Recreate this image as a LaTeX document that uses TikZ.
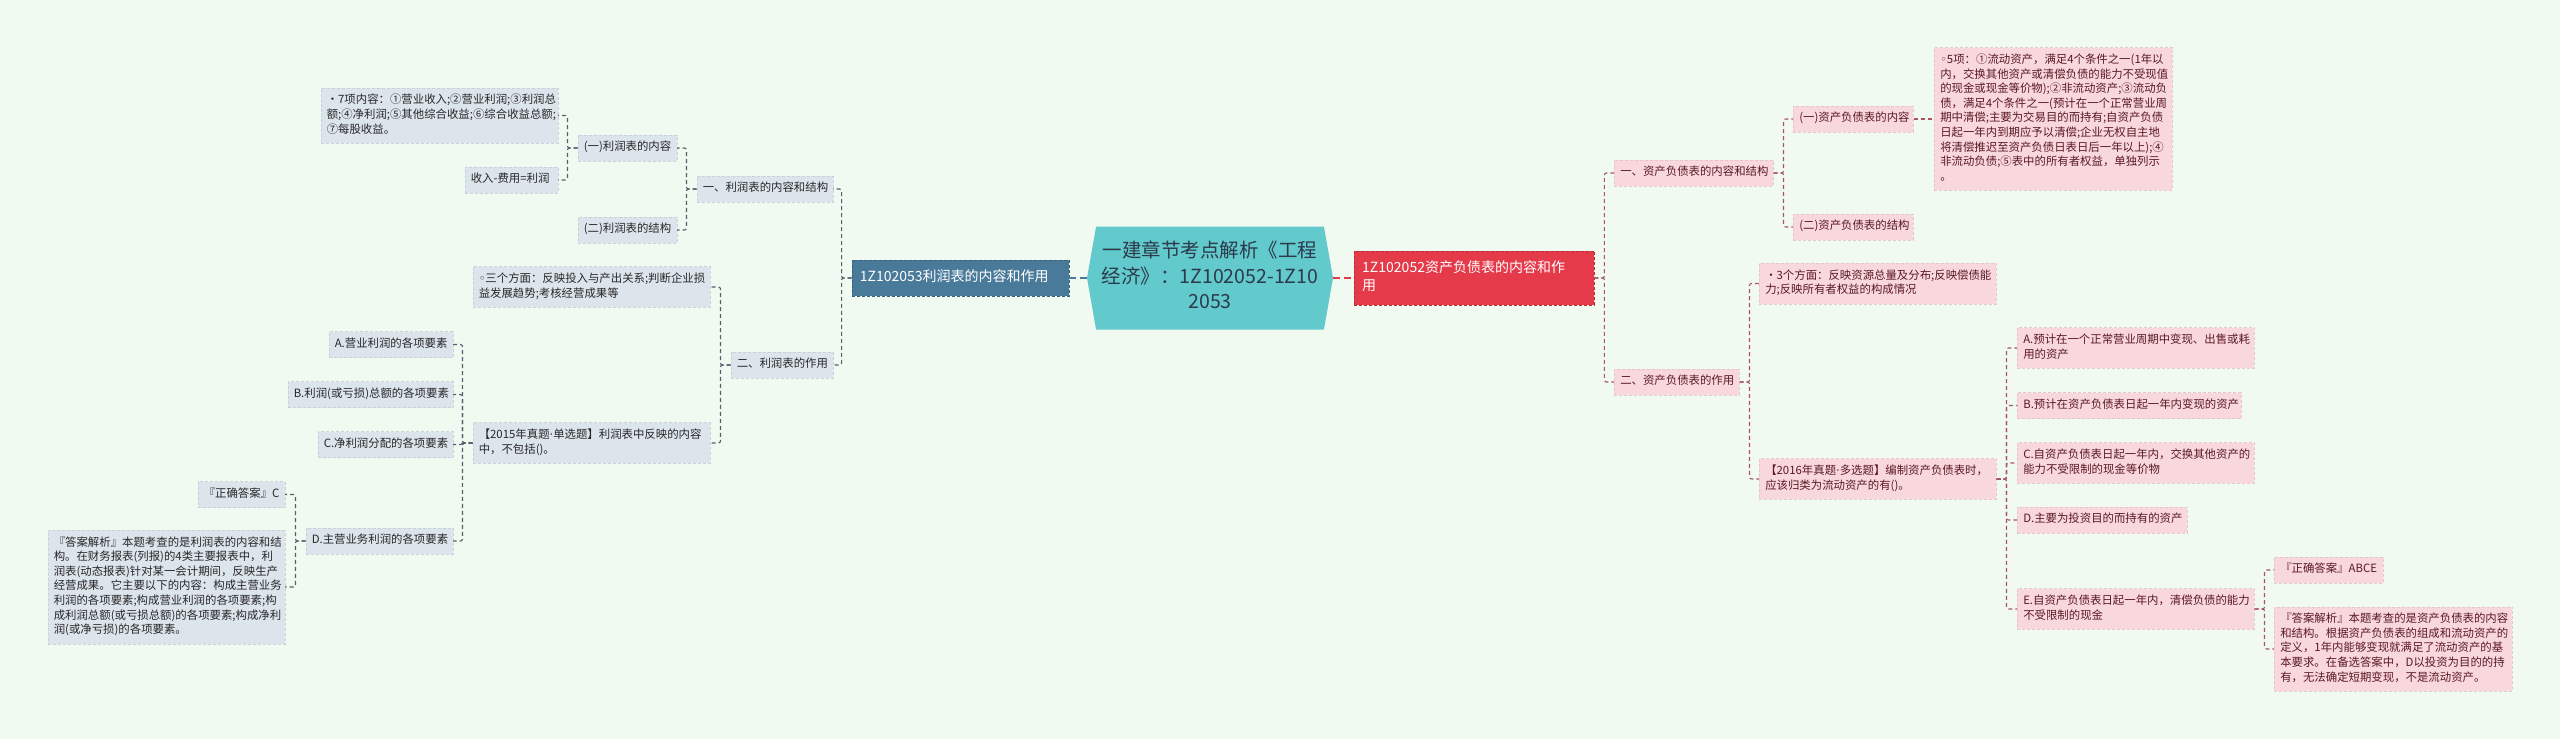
\documentclass[tikz,border=0pt]{standalone}
\usepackage{fontspec}
\setmainfont{Noto Sans CJK SC}
\newfontfamily\symfont{DejaVu Sans}
\usepackage{xcolor}
\usepackage{tikz}
\usetikzlibrary{shapes.symbols}

\definecolor{bgcol}{RGB}{241,250,240}
\definecolor{lfill}{RGB}{220,228,236}
\definecolor{ltext}{RGB}{40,40,40}
\definecolor{lline}{RGB}{80,96,110}
\definecolor{rfill}{RGB}{249,216,221}
\definecolor{rtext}{RGB}{90,24,36}
\definecolor{rline}{RGB}{170,84,98}
\definecolor{bluecol}{RGB}{74,122,154}
\definecolor{redcol}{RGB}{229,58,74}
\definecolor{hubcol}{RGB}{98,201,204}
\definecolor{hubtext}{RGB}{44,58,74}

\newcommand{\mdot}{{\symfont ·}}

\begin{document}
\begin{tikzpicture}[x=1pt,y=-1pt,
  every node/.style={inner xsep=6pt, inner ysep=5.7pt, align=left,
    execute at begin node=\strut, execute at end node=\strut},
  lbox/.style={fill=lfill, draw=lfill!92!black, dash pattern=on 3pt off 2pt,
    line width=0.5pt, text=ltext, font=\fontsize{11.4}{14.6}\selectfont},
  rbox/.style={fill=rfill, draw=rfill!92!black, dash pattern=on 3pt off 2pt,
    line width=0.5pt, text=rtext, font=\fontsize{11.4}{14.6}\selectfont},
  lconn/.style={draw=lline, line width=1.1pt, dash pattern=on 4pt off 3pt, rounded corners=2pt},
  rconn/.style={draw=rline, line width=1.1pt, dash pattern=on 4pt off 3pt, rounded corners=2pt},
  hub/.style={shape=signal, signal to=west and east, signal pointer angle=160,
    fill=hubcol, text=hubtext, minimum width=246pt, minimum height=103pt,
    text width=222pt, align=center, inner sep=0pt,
    font=\fontsize{19.5}{25.5}\selectfont},
  bluebox/.style={fill=bluecol, draw=bluecol!80!black, dash pattern=on 3pt off 2pt,
    text=white, inner xsep=8pt, inner ysep=8.75pt, font=\fontsize{14}{18.5}\selectfont},
  redbox/.style={fill=redcol, draw=redcol!80!black, dash pattern=on 3pt off 2pt,
    text=white, inner xsep=8pt, inner ysep=8.75pt, font=\fontsize{14}{18.5}\selectfont}]

\fill[bgcol] (0,0) rectangle (2560,739);

% centre and the two main branches
\node[hub] (hub) at (1210,278) {一建章节考点解析《工程\\经济》：1Z102052-1Z10\\2053};
\node[bluebox, anchor=east, text width=201pt] (b53) at (1069,278) {1Z102053利润表的内容和作用};
\node[redbox, anchor=west, text width=224pt] (r52) at (1354,278) {1Z102052资产负债表的内容和作\\用};

\draw[draw=bluecol, line width=1.6pt, dash pattern=on 7pt off 4pt] (hub.west) -- (b53.east);
\draw[draw=redcol, line width=1.6pt, dash pattern=on 7pt off 4pt] (hub.east) -- (r52.west);

% left side
\node[lbox, anchor=east, text width=124pt] (l1) at (833,189) {一、利润表的内容和结构};
\node[lbox, anchor=east, text width=90pt] (l2) at (833,365) {二、利润表的作用};
\node[lbox, anchor=east, text width=87pt] (l11) at (677,148) {(一)利润表的内容};
\node[lbox, anchor=east, text width=87pt] (l12) at (677,230) {(二)利润表的结构};
\node[lbox, anchor=east, text width=225pt] (l111) at (558,115.5)
  {•7项内容：①营业收入;②营业利润;③利润总\\额;④净利润;⑤其他综合收益;⑥综合收益总额;\\⑦每股收益。};
\node[lbox, anchor=east, text width=81pt] (l112) at (558,180) {收入-费用=利润};
\node[lbox, anchor=east, text width=225pt] (l21) at (710,287)
  {{\symfont ◦}三个方面：反映投入与产出关系;判断企业损\\益发展趋势;考核经营成果等};
\node[lbox, anchor=east, text width=225pt] (l22) at (710,443)
  {【2015年真题\mdot 单选题】利润表中反映的内容\\中，不包括()。};
\node[lbox, anchor=east, text width=112pt] (lA) at (453,344.5) {A.营业利润的各项要素};
\node[lbox, anchor=east, text width=153pt] (lB) at (453,394.5) {B.利润(或亏损)总额的各项要素};
\node[lbox, anchor=east, text width=123pt] (lC) at (453,444.5) {C.净利润分配的各项要素};
\node[lbox, anchor=east, text width=135pt] (lD) at (453,541) {D.主营业务利润的各项要素};
\node[lbox, anchor=east, text width=75pt] (lD1) at (285,494.5) {『正确答案』C};
\node[lbox, anchor=east, text width=225pt] (lD2) at (285,587)
  {『答案解析』本题考查的是利润表的内容和结\\构。在财务报表(列报)的4类主要报表中，利\\润表(动态报表)针对某一会计期间，反映生产\\经营成果。它主要以下的内容：构成主营业务\\利润的各项要素;构成营业利润的各项要素;构\\成利润总额(或亏损总额)的各项要素;构成净利\\润(或净亏损)的各项要素。};

\foreach \c in {l1,l2} \draw[lconn] (b53.west) -- ++(-10,0) |- (\c.east);
\foreach \c in {l11,l12} \draw[lconn] (l1.west) -- ++(-10,0) |- (\c.east);
\foreach \c in {l111,l112} \draw[lconn] (l11.west) -- ++(-10,0) |- (\c.east);
\foreach \c in {l21,l22} \draw[lconn] (l2.west) -- ++(-10,0) |- (\c.east);
\foreach \c in {lA,lB,lC,lD} \draw[lconn] (l22.west) -- ++(-10,0) |- (\c.east);
\foreach \c in {lD1,lD2} \draw[lconn] (lD.west) -- ++(-10,0) |- (\c.east);

% right side
\node[rbox, anchor=west, text width=147pt] (r1) at (1614,173) {一、资产负债表的内容和结构};
\node[rbox, anchor=west, text width=113pt] (r2) at (1614,382) {二、资产负债表的作用};
\node[rbox, anchor=west, text width=108pt] (r11) at (1793,119) {(一)资产负债表的内容};
\node[rbox, anchor=west, text width=108pt] (r12) at (1793,227) {(二)资产负债表的结构};
\node[rbox, anchor=west, text width=226pt] (r111) at (1934,119)
  {{\symfont ◦}5项：①流动资产，满足4个条件之一(1年以\\内，交换其他资产或清偿负债的能力不受现值\\的现金或现金等价物);②非流动资产;③流动负\\债，满足4个条件之一(预计在一个正常营业周\\期中清偿;主要为交易目的而持有;自资产负债\\日起一年内到期应予以清偿;企业无权自主地\\将清偿推迟至资产负债日表日后一年以上);④\\非流动负债;⑤表中的所有者权益，单独列示\\。};
\node[rbox, anchor=west, text width=225pt] (r21) at (1759,283.5)
  {•3个方面：反映资源总量及分布;反映偿债能\\力;反映所有者权益的构成情况};
\node[rbox, anchor=west, text width=225pt] (r22) at (1759,479)
  {【2016年真题\mdot 多选题】编制资产负债表时，\\应该归类为流动资产的有()。};
\node[rbox, anchor=west, text width=225pt] (rA) at (2017,348)
  {A.预计在一个正常营业周期中变现、出售或耗\\用的资产};
\node[rbox, anchor=west, text width=212pt] (rB) at (2017,405.5) {B.预计在资产负债表日起一年内变现的资产};
\node[rbox, anchor=west, text width=225pt] (rC) at (2017,463)
  {C.自资产负债表日起一年内，交换其他资产的\\能力不受限制的现金等价物};
\node[rbox, anchor=west, text width=158pt] (rD) at (2017,520) {D.主要为投资目的而持有的资产};
\node[rbox, anchor=west, text width=225pt] (rE) at (2017,609)
  {E.自资产负债表日起一年内，清偿负债的能力\\不受限制的现金};
\node[rbox, anchor=west, text width=97pt] (rE1) at (2274,570) {『正确答案』ABCE};
\node[rbox, anchor=west, text width=226pt] (rE2) at (2274,649)
  {『答案解析』本题考查的是资产负债表的内容\\和结构。根据资产负债表的组成和流动资产的\\定义，1年内能够变现就满足了流动资产的基\\本要求。在备选答案中，D以投资为目的的持\\有，无法确定短期变现，不是流动资产。};

\foreach \c in {r1,r2} \draw[rconn] (r52.east) -- ++(10,0) |- (\c.west);
\foreach \c in {r11,r12} \draw[rconn] (r1.east) -- ++(10,0) |- (\c.west);
\draw[rconn] (r11.east) -- (r111.west);
\foreach \c in {r21,r22} \draw[rconn] (r2.east) -- ++(10,0) |- (\c.west);
\foreach \c in {rA,rB,rC,rD,rE} \draw[rconn] (r22.east) -- ++(10,0) |- (\c.west);
\foreach \c in {rE1,rE2} \draw[rconn] (rE.east) -- ++(10,0) |- (\c.west);
\end{tikzpicture}
\end{document}
